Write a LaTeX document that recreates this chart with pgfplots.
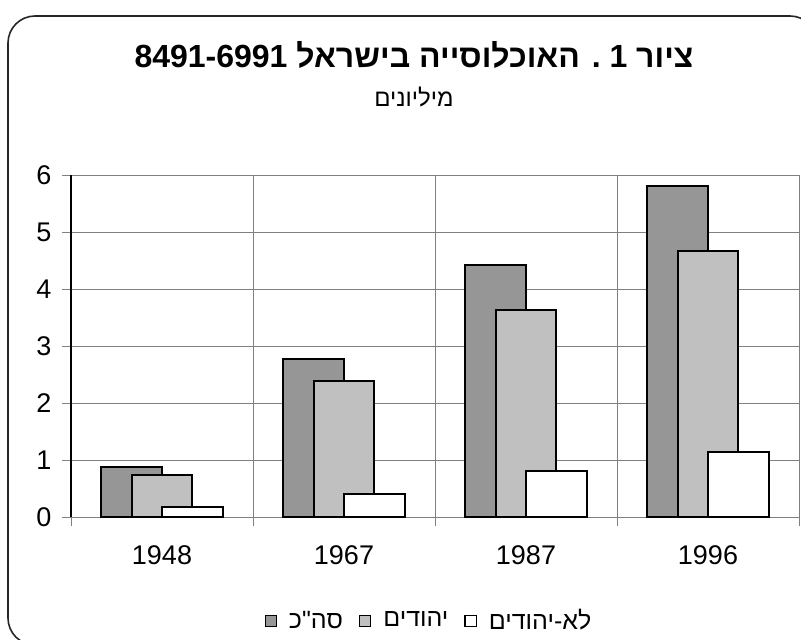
\documentclass[border=0pt]{standalone}
\usepackage{fontspec}
\usepackage{pgfplots}
\pgfplotsset{compat=1.18}
\setmainfont{Liberation Sans}
\newfontfamily\hebfont[Script=Hebrew]{Liberation Sans}
\TeXXeTstate=1
\definecolor{darkbar}{RGB}{150,150,150}
\definecolor{lightbar}{RGB}{192,192,192}
\definecolor{gridc}{RGB}{128,128,128}

\pgfplotstableread{
x y
0 0.88
1 2.78
2 4.42
3 5.80
}\total
\pgfplotstableread{
x y
0 0.73
1 2.39
2 3.63
3 4.66
}\jews
\pgfplotstableread{
x y
0 0.17
1 0.41
2 0.81
3 1.14
}\nonjews

\begin{document}
\begin{tikzpicture}
\useasboundingbox (0pt,0pt) rectangle (400.5pt,319.5pt);
\begin{scope}
\clip (0pt,0pt) rectangle (400.5pt,319.5pt);
\draw[line width=0.8pt, rounded corners=13.5pt, black!85] (4pt,-3pt) rectangle (408.5pt,311.5pt);
\end{scope}
\node[anchor=base, inner sep=0pt] at (207pt,286pt) {\hebfont\fontsize{16}{19}\selectfont\bfseries \beginR ציור \beginL 1\endL{} . האוכלוסייה בישראל \beginL 8491-6991\endL\endR};
\node[anchor=base, inner sep=0pt] at (207pt,266.5pt) {\hebfont\fontsize{12}{14}\selectfont \beginR מיליונים\endR};
\begin{axis}[
  at={(35.5pt,61pt)}, anchor=south west,
  scale only axis, width=364pt, height=171pt,
  xmin=-0.5, xmax=3.5, ymin=0, ymax=6,
  ybar,
  axis lines*=left,
  x axis line style={gridc, line width=0.5pt},
  y axis line style={black, line width=0.6pt},
  xtick={0,1,2,3},
  xticklabels={1948,1967,1987,1996},
  minor xtick={-0.5,0.5,1.5,2.5,3.5},
  ytick={0,1,2,3,4,5,6},
  tick align=outside,
  major tick length=4.5pt,
  minor tick length=4.5pt,
  major x tick style={draw=none},
  tick style={gridc, line width=0.5pt},
  xminorgrids=true, ymajorgrids=true, xmajorgrids=false,
  grid style={gridc, line width=0.5pt},
  minor grid style={gridc, line width=0.5pt},
  /pgf/number format/assume math mode=true,
  ticklabel style={font=\fontsize{13.5}{16}\selectfont},
  xticklabel style={yshift=-6.5pt},
  yticklabel style={xshift=-1.8pt},
  bar width=0.335,
  legend columns=3,
  legend style={draw=none, fill=none, at={(0.493,-0.304)}, anchor=center,
    font=\fontsize{12.5}{15}\selectfont, column sep=4pt,
    /tikz/every even column/.append style={column sep=6pt}},
]
\addplot[fill=darkbar, draw=black, line width=1pt, bar shift=-0.17,
  legend image code/.code={\draw[fill=darkbar, draw=black, line width=0.6pt] (0pt,-2.8pt) rectangle (5.6pt,2.8pt);}]
  table[x=x,y=y] {\total};
\addlegendentry{\hebfont\beginR סה"כ\endR}
\addplot[fill=lightbar, draw=black, line width=1pt, bar shift=0,
  legend image code/.code={\draw[fill=lightbar, draw=black, line width=0.6pt] (0pt,-2.8pt) rectangle (5.6pt,2.8pt);}]
  table[x=x,y=y] {\jews};
\addlegendentry{\hebfont\beginR יהודים\endR}
\addplot[fill=white, draw=black, line width=1pt, bar shift=0.165,
  legend image code/.code={\draw[fill=white, draw=black, line width=0.6pt] (0pt,-2.8pt) rectangle (5.6pt,2.8pt);}]
  table[x=x,y=y] {\nonjews};
\addlegendentry{\hebfont\beginR לא-יהודים\endR}
\end{axis}
\end{tikzpicture}
\end{document}
